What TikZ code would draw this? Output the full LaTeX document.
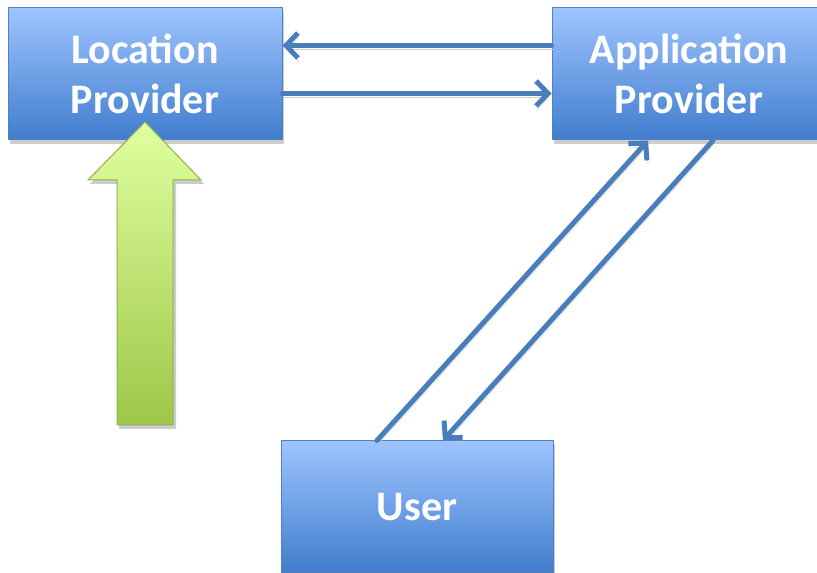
\documentclass[tikz,border=0pt]{standalone}
\usepackage{fontspec}
\setmainfont{Carlito}
\usetikzlibrary{arrows.meta,shadows}
\definecolor{boxtop}{RGB}{158,196,255}
\definecolor{boxbot}{RGB}{64,125,205}
\definecolor{boxline}{RGB}{79,129,189}
\definecolor{conn}{RGB}{74,126,187}
\definecolor{gtop}{RGB}{224,255,160}
\definecolor{gbot}{RGB}{157,199,72}
\definecolor{gline}{RGB}{140,180,80}
\tikzset{
  bluebox/.style={draw=boxline, line width=1pt, top color=boxtop, bottom color=boxbot,
    minimum width=274pt, minimum height=132pt, inner sep=0pt, align=center,
    text=white, font=\bfseries\fontsize{42}{50}\selectfont,
    drop shadow={shadow xshift=2pt, shadow yshift=-4pt, fill=black, opacity=0.2}},
  connector/.style={draw=conn, line width=5pt, line cap=round,
    -{Straight Barb[length=12pt,width=25pt,line width=5pt]},
    preaction={draw=black!20, transform canvas={xshift=1pt,yshift=-4pt}}}
}
\begin{document}
\begin{tikzpicture}[x=1pt,y=1pt]
\useasboundingbox (0,0) rectangle (817,573);
\fill[white] (0,0) rectangle (817,573);
\node[bluebox] (loc) at (145,499) {Location\\Provider};
\node[bluebox] (app) at (689,499) {Application\\Provider};
\node[bluebox, minimum width=272pt] (user) at (417,66) {User};
% green arrow
\fill[black!20] (119,144) -- (176,144) -- (176,389) -- (204,389) -- (147,449) -- (90,389) -- (119,389) -- cycle;
\shade[top color=gtop, bottom color=gbot, draw=gline, line width=1pt]
  (117,148) -- (173,148) -- (173,393) -- (201,393) -- (145,451) -- (88,393) -- (117,393) -- cycle;
\draw[connector] ([yshift=28.5pt]app.west) -- ([yshift=28.5pt]loc.east);
\draw[connector] ([yshift=-19.5pt]loc.east) -- ([yshift=-19.5pt]app.west);
\draw[connector] ([xshift=-40pt]user.north) -- ([xshift=-41pt]app.south);
\draw[connector] ([xshift=24pt]app.south) -- ([xshift=26pt]user.north);
\end{tikzpicture}
\end{document}
